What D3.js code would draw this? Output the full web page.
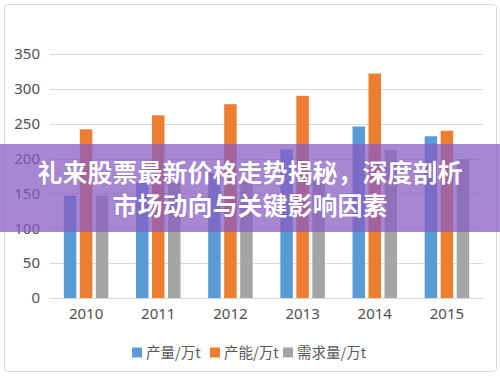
<!DOCTYPE html>
<html><head><meta charset="utf-8">
<script src="https://cdn.jsdelivr.net/npm/d3@7"></script>
<style>html,body{margin:0;padding:0;background:#fff;}svg{display:block;}</style>
</head><body>
<script>
const years = ["2010","2011","2012","2013","2014","2015"];
const seriesNames = ["产量/万t","产能/万t","需求量/万t"];
const output = [147,166,179,213,246,232];
const capacity = [242,262,278,290,322,240];
const demand = [147,165,167,167,212,199];
const yTicks = [0,50,100,150,200,250,300,350];
const colors = ["#5b9bd5","#ed7d31","#a5a5a5"];
const titleLines = ["礼来股票最新价格走势揭秘，深度剖析","市场动向与关键影响因素"];
const seriesData = [output, capacity, demand];

const W = 500, H = 377;
const svg = d3.select("body").append("svg").attr("width", W).attr("height", H);

svg.append("rect").attr("x",4.5).attr("y",4.5).attr("width",492).attr("height",367)
  .attr("rx",3).attr("fill","#fff").attr("stroke","#d9d9d9").attr("stroke-width",1);

const x = d3.scaleBand().domain(years).range([50,483]).paddingInner(0).paddingOuter(0);
const groupW = 44.5;
const xs = d3.scaleBand().domain(seriesNames).range([0,groupW]).paddingInner(0.22).paddingOuter(0);
const y = d3.scaleLinear().domain([0,350]).range([298,54]);

// gridlines
svg.append("g").selectAll("line").data(yTicks).join("line")
  .attr("x1",50).attr("x2",483)
  .attr("y1",d=>Math.round(y(d))+0.5).attr("y2",d=>Math.round(y(d))+0.5)
  .attr("stroke","#d9d9d9").attr("stroke-width",1);

// y labels
const yAxis = d3.axisLeft(y).tickValues(yTicks).tickSize(0).tickPadding(0);
const gy = svg.append("g").attr("transform","translate(40,0)").call(yAxis);
gy.select(".domain").remove();
gy.selectAll("text").attr("font-family","'Noto Sans', 'Open Sans', sans-serif")
  .attr("font-size",15).attr("fill","#505050");

// bars
const off = (x.bandwidth()-groupW)/2;
seriesData.forEach((vals,si)=>{
  svg.append("g").selectAll("rect").data(vals).join("rect")
    .attr("x",(d,i)=>x(years[i])+off+xs(seriesNames[si]))
    .attr("width",xs.bandwidth())
    .attr("y",d=>y(d))
    .attr("height",d=>y(0)-y(d))
    .attr("fill",colors[si]);
});

// x axis
const xAxis = d3.axisBottom(x).tickSize(0).tickPadding(10);
const gx = svg.append("g").attr("transform",`translate(0,${y(0)})`).call(xAxis);
gx.select(".domain").attr("stroke","#d9d9d9");
gx.selectAll("text").attr("font-family","'Noto Sans', 'Open Sans', sans-serif")
  .attr("font-size",15).attr("fill","#505050");

// legend
const legendX = [132,210,283];
const lg = svg.append("g");
seriesNames.forEach((n,i)=>{
  lg.append("rect").attr("x",legendX[i]).attr("y",347.5).attr("width",10).attr("height",10).attr("fill",colors[i]);
  lg.append("text").attr("x",legendX[i]+14).attr("y",358)
    .attr("font-family","'Noto Sans CJK SC', sans-serif").attr("font-size",14.5)
    .attr("fill","#595959").text(n);
});

// banner overlay
svg.append("rect").attr("x",0).attr("y",144).attr("width",W).attr("height",88)
  .attr("fill","rgb(136,92,194)").attr("fill-opacity",0.74);
svg.append("g").selectAll("text").data(titleLines).join("text")
  .attr("x",250).attr("y",(d,i)=>181.5+i*33.5)
  .attr("text-anchor","middle")
  .attr("font-family","'Noto Sans CJK SC', sans-serif").attr("font-weight","bold")
  .attr("font-size",25).attr("fill","#fff")
  .style("paint-order","stroke").attr("stroke","rgba(90,50,140,0.25)").attr("stroke-width",1)
  .text(d=>d);
</script>
</body></html>
